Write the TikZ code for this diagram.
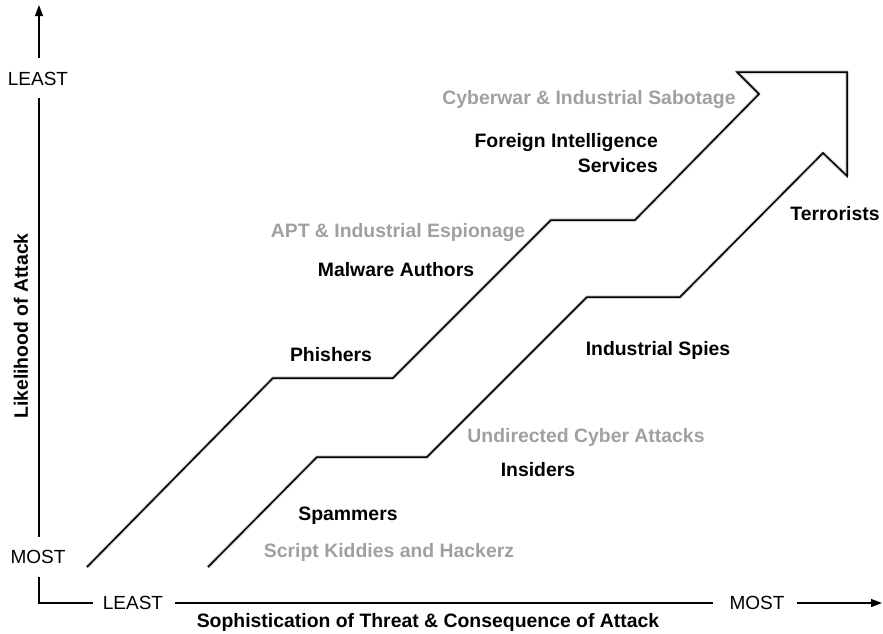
\documentclass[tikz,border=0pt]{standalone}
\usepackage{fontspec}
\setmainfont{Liberation Sans}
\usetikzlibrary{arrows.meta}
\definecolor{lblgray}{RGB}{160,160,160}
\tikzset{
  lbl/.style={font=\fontsize{19.4}{22}\selectfont\bfseries, text=black, inner sep=0pt},
  glbl/.style={lbl, text=lblgray},
  axlbl/.style={font=\fontsize{19}{22}\selectfont, inner sep=0pt},
  axtitle/.style={font=\fontsize{19.4}{22}\selectfont\bfseries, inner sep=0pt},
  stair/.style={line width=1.5pt, line join=miter, black},
  stairshadow/.style={line width=3pt, line join=round, black, opacity=0.14},
  axis/.style={line width=1.2pt, black},
  axtip/.style={-{Triangle[length=11pt,width=8pt]}}
}
\begin{document}
\begin{tikzpicture}[x=1pt,y=-1pt]
\useasboundingbox (0,0) rectangle (883,633);
% coordinates of the stair arrow
\coordinate (u0) at (87,567);
\coordinate (u1) at (273,378);
\coordinate (u2) at (393,378);
\coordinate (u3) at (551,220);
\coordinate (u4) at (635,220);
\coordinate (u5) at (759,94);
\coordinate (h1) at (737,72);
\coordinate (h2) at (847,72);
\coordinate (h3) at (847,176);
\coordinate (l5) at (823,153);
\coordinate (l4) at (680,297);
\coordinate (l3) at (587,297);
\coordinate (l2) at (427,457);
\coordinate (l1) at (317,457);
\coordinate (l0) at (208,567);
% soft shadow
\begin{scope}[shift={(3,3.5)}]
\draw[stairshadow, line width=4pt, opacity=0.08] (u0) -- (u1) -- (u2) -- (u3) -- (u4) -- (u5) -- (h1) -- (h2) -- (h3) -- (l5) -- (l4) -- (l3) -- (l2) -- (l1) -- (l0);
\end{scope}
\begin{scope}[shift={(1.8,2.2)}]
\draw[stairshadow] (u0) -- (u1) -- (u2) -- (u3) -- (u4) -- (u5) -- (h1) -- (h2) -- (h3) -- (l5) -- (l4) -- (l3) -- (l2) -- (l1) -- (l0);
\end{scope}
\draw[stair] (u0) -- (u1) -- (u2) -- (u3) -- (u4) -- (u5) -- (h1) -- (h2) -- (h3) -- (l5) -- (l4) -- (l3) -- (l2) -- (l1) -- (l0);

% axes
\node[axlbl] (yleast) at (38,79) {LEAST};
\node[axlbl] (ymost) at (38,557) {MOST};
\node[axlbl] (xleast) at (133,603) {LEAST};
\node[axlbl] (xmost) at (757,603) {MOST};
\coordinate (ytop) at (39,5);
\coordinate (ystart) at (39,58);
\coordinate (corner) at (39,603);
\coordinate (xend) at (882,603);
\draw[axis, axtip] (ystart) -- (ytop);
\draw[axis] (39,98) -- (39,537);
\draw[axis] (39,577) -- (corner) -- (93,603);
\draw[axis] (175,603) -- (713,603);
\draw[axis, axtip] (797,603) -- (xend);
\node[axtitle] (xtitle) at (428,622) {Sophistication of Threat \& Consequence of Attack};
\node[axtitle, rotate=90] (ytitle) at (21,326) {Likelihood of Attack};

% labels
\node[glbl] (cyber) at (589,100) {Cyberwar \& Industrial Sabotage};
\node[lbl, anchor=east] (fis1) at (658,143) {Foreign Intelligence};
\node[lbl, anchor=east] (fis2) at (658,166) {Services};
\node[glbl] (apt) at (398,233) {APT \& Industrial Espionage};
\node[lbl] (malw) at (396,270) {Malware Authors};
\node[lbl] (phish) at (331,355) {Phishers};
\node[lbl] (terr) at (835,214) {Terrorists};
\node[lbl] (spies) at (658,350) {Industrial Spies};
\node[glbl] (undir) at (586,437) {Undirected Cyber Attacks};
\node[lbl] (insid) at (538,470) {Insiders};
\node[lbl] (spam) at (348,516) {Spammers};
\node[glbl] (kidd) at (389,552) {Script Kiddies and Hackerz};
\end{tikzpicture}
\end{document}
